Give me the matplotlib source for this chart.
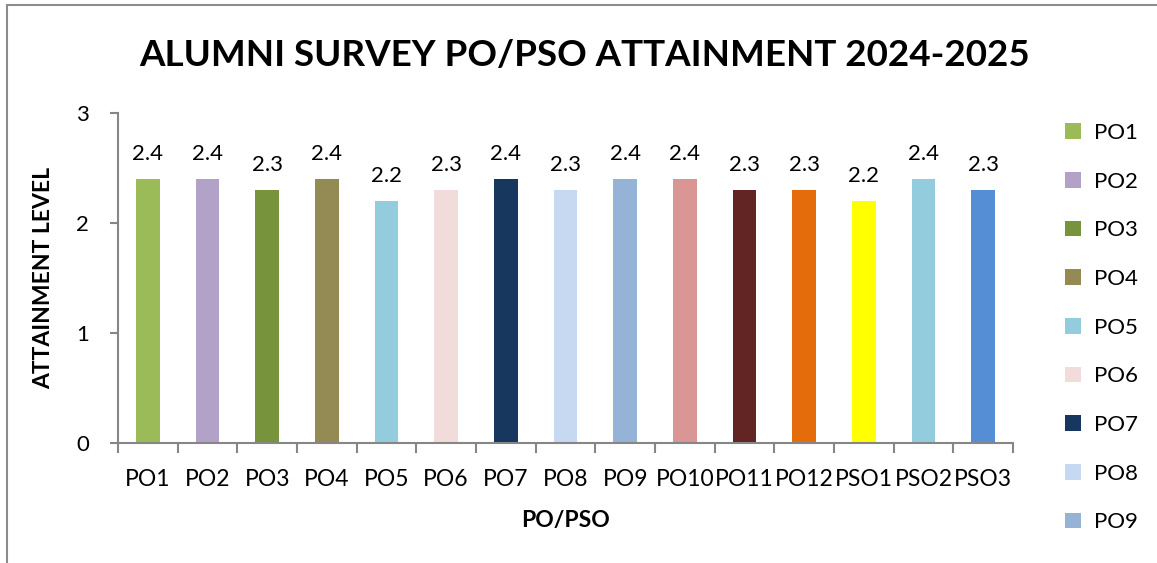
import matplotlib
matplotlib.use('Agg')
import matplotlib.pyplot as plt
from matplotlib.patches import Patch, Rectangle

# datos del gráfico
categorias = ['PO1', 'PO2', 'PO3', 'PO4', 'PO5', 'PO6', 'PO7', 'PO8', 'PO9',
              'PO10', 'PO11', 'PO12', 'PSO1', 'PSO2', 'PSO3']
valores = [2.4, 2.4, 2.3, 2.4, 2.2, 2.3, 2.4, 2.3, 2.4, 2.4, 2.3, 2.3, 2.2, 2.4, 2.3]
colores = ['#9BBB59', '#B3A2C7', '#77933C', '#948A54', '#93CDDD', '#F2DCDB',
           '#17375E', '#C6D9F1', '#95B3D7', '#D99694', '#632523', '#E46C0A',
           '#FFFF00', '#93CDDD', '#558ED5']
leyenda_visible = 9  # la leyenda del original queda cortada en PO9

plt.rcParams['font.family'] = ['Lato', 'DejaVu Sans']
gris = '#868686'

fig = plt.figure(figsize=(11.57, 5.63), dpi=100)
fig.patches.append(Rectangle((7 / 1157, -0.02), 1.1, 1 - 5 / 563 + 0.02,
                             transform=fig.transFigure, fill=False,
                             edgecolor='#8c8c8c', linewidth=1.5))

ax = fig.add_axes([118 / 1157, 1 - 443 / 563, (1013 - 118) / 1157, (443 - 113) / 563])
x = list(range(len(categorias)))
barras = ax.bar(x, valores, width=0.4, color=colores)

for xi, v in zip(x, valores):
    ax.text(xi, v + 0.14, f'{v:.1f}', ha='center', va='bottom', fontsize=16)

ax.set_xlim(-0.5, len(categorias) - 0.5)
ax.set_ylim(0, 3)
ax.set_yticks([0, 1, 2, 3])
ax.set_xticks(x)
ax.set_xticklabels(categorias, fontsize=16.5)
ax.set_xticks([i - 0.5 for i in range(len(categorias) + 1)], minor=True)
ax.tick_params(axis='x', which='major', length=0, pad=19)
ax.tick_params(axis='x', which='minor', length=7, color=gris, width=1.5, direction='out')
ax.tick_params(axis='y', labelsize=16, length=6, color=gris, width=1.5, pad=15)

for lado in ['top', 'right']:
    ax.spines[lado].set_visible(False)
for lado in ['left', 'bottom']:
    ax.spines[lado].set_color(gris)
    ax.spines[lado].set_linewidth(1.5)

ax.set_xlabel('PO/PSO', fontsize=16.5, fontweight='bold', labelpad=14)
ax.set_ylabel('ATTAINMENT LEVEL', fontsize=16.5, fontweight='bold', labelpad=16)

fig.text(585 / 1157, 1 - 55 / 563, 'ALUMNI SURVEY PO/PSO ATTAINMENT 2024-2025',
         ha='center', va='center', fontsize=26.5, fontweight='bold')

manejadores = [Patch(facecolor=c, label=l)
               for c, l in zip(colores[:leyenda_visible], categorias[:leyenda_visible])]
fig.legend(handles=manejadores, loc='upper left', bbox_to_anchor=(1045 / 1157, 1 - 103 / 563),
           frameon=False, fontsize=16, handlelength=0.7, handleheight=0.7,
           handletextpad=0.6, labelspacing=1.29)

fig.savefig('out.png', dpi=100)
plt.close(fig)
